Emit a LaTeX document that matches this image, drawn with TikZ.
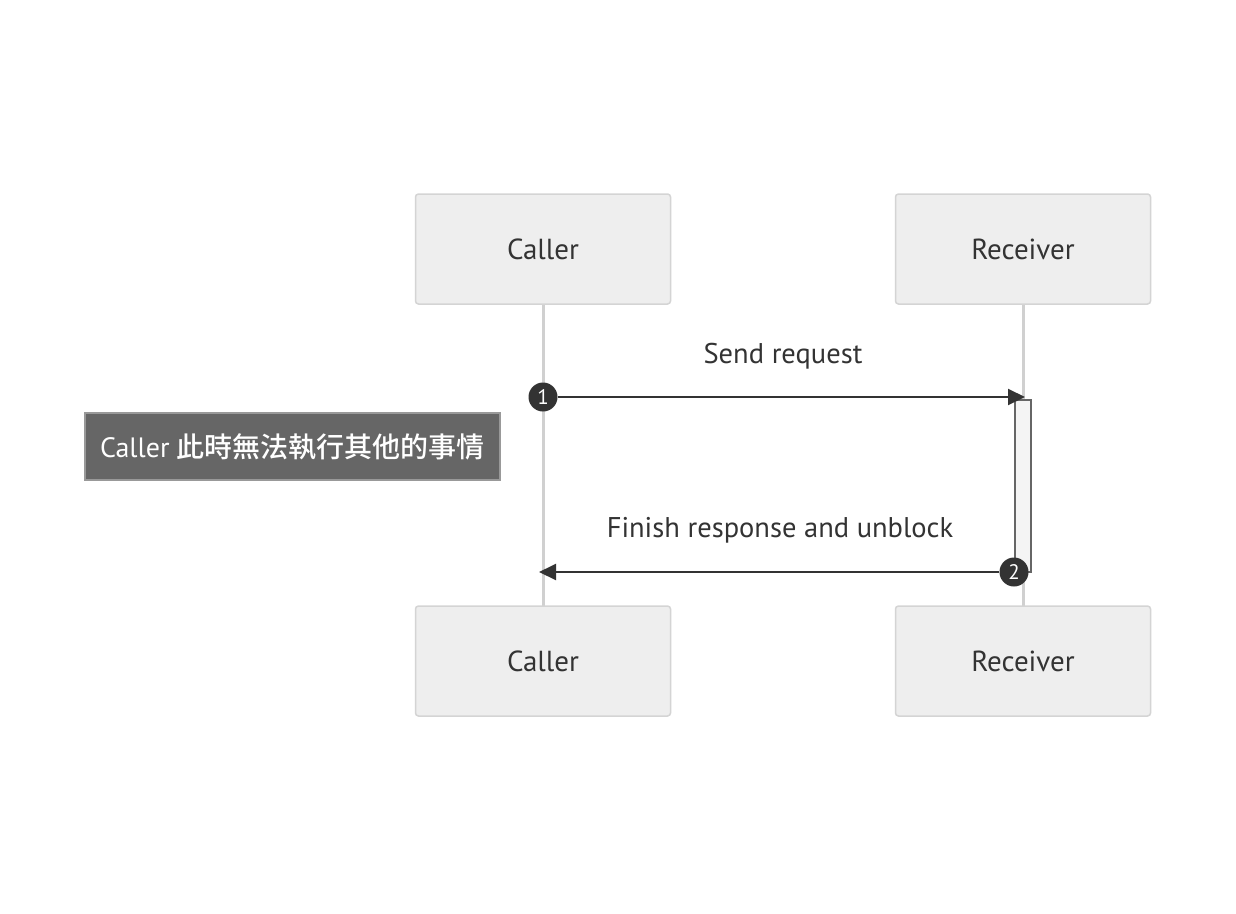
\documentclass[tikz,border=0pt]{standalone}
\usepackage{fontspec}
\setmainfont{PT Sans}
\newfontfamily\cjk{Noto Sans CJK TC Medium}
\usetikzlibrary{arrows.meta}
\definecolor{actfill}{HTML}{EEEEEE}
\definecolor{actline}{HTML}{D4D4D4}
\definecolor{lifec}{HTML}{D0D0D0}
\definecolor{txt}{HTML}{333333}
\definecolor{notefill}{HTML}{666666}
\definecolor{noteline}{HTML}{999999}
\definecolor{actvfill}{HTML}{F4F4F4}
\definecolor{actvline}{HTML}{666666}
\tikzset{
  x=1pt, y=-1pt,
  actor/.style={draw=actline, line width=1.5pt, fill=actfill, rounded corners=3pt, minimum width=255pt, minimum height=110pt, text=txt, font=\fontsize{29}{34}\selectfont, inner sep=0pt},
  lifeline/.style={draw=lifec, line width=3pt},
  msg/.style={draw=txt, line width=2pt, -{Triangle[length=17pt,width=16pt]}},
  msglabel/.style={text=txt, font=\fontsize{28.5}{34}\selectfont, inner sep=0pt},
  seqnum/.style={circle, fill=txt, minimum size=29pt, inner sep=0pt, text=white, font=\fontsize{21}{24}\selectfont},
  notebox/.style={draw=noteline, line width=1.5pt, fill=notefill, minimum width=415pt, minimum height=67pt, text=white, font=\fontsize{28}{32}\selectfont, inner sep=0pt},
  activation/.style={draw=actvline, line width=1.5pt, fill=actvfill}
}
\begin{document}
\begin{tikzpicture}
\useasboundingbox (0,0) rectangle (1236,913);
\fill[white] (0,0) rectangle (1236,913);
% lifelines
\coordinate (c1) at (543,304);
\coordinate (c2) at (543,606);
\coordinate (r1) at (1023,304);
\coordinate (r2) at (1023,606);
\draw[lifeline] (c1) -- (c2);
\draw[lifeline] (r1) -- (r2);
% actors
\node[actor] (callerTop) at (543,249) {Caller};
\node[actor] (receiverTop) at (1023,249) {Receiver};
\node[actor] (callerBot) at (543,661) {Caller};
\node[actor] (receiverBot) at (1023,661) {Receiver};
% activation
\draw[activation] (1015,400) rectangle (1031,572);
% note
\node[notebox] (note) at (292.5,446.5) {Caller {\cjk 此時無法執行其他的事情}};
% messages
\node[seqnum] (n1) at (543,397) {1};
\coordinate (t1) at (1025,397);
\draw[msg] (n1.east) -- (t1);
\node[msglabel] (l1) at (783,356) {Send request};
\node[seqnum] (n2) at (1014,572) {2};
\coordinate (t2) at (539,572);
\draw[msg] (n2.west) -- (t2);
\node[msglabel] (l2) at (780,530) {Finish response and unblock};
\end{tikzpicture}
\end{document}
